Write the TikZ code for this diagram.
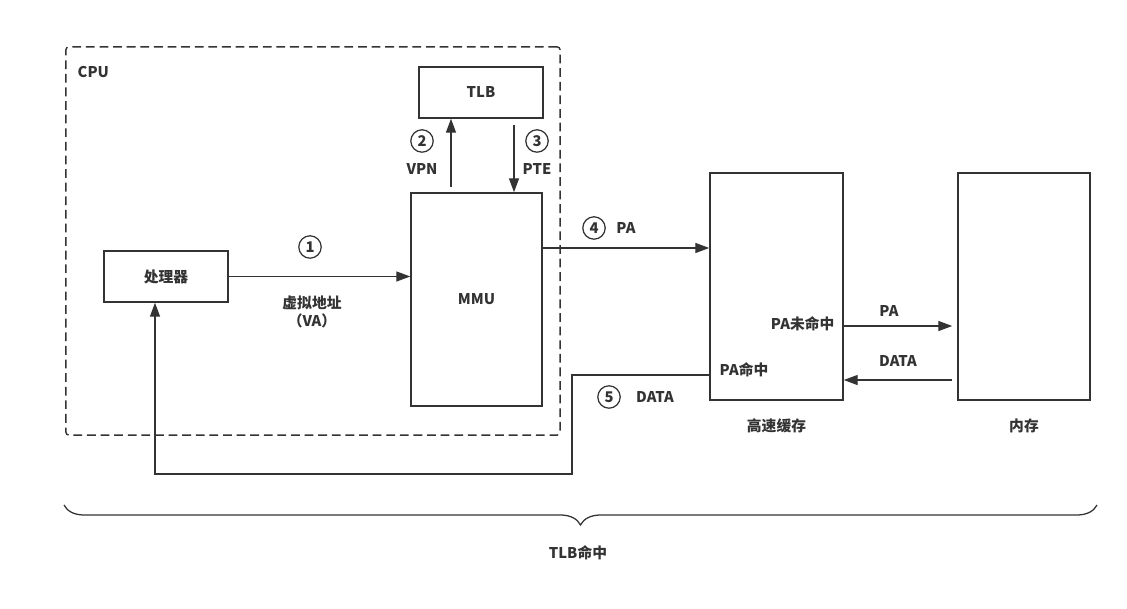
\documentclass[tikz,border=0pt]{standalone}
\usepackage{fontspec}
\setmainfont{Noto Sans CJK SC}
\usetikzlibrary{positioning,arrows.meta,calc,decorations.pathreplacing}
\definecolor{ink}{HTML}{333333}
\tikzset{
  blk/.style={draw=ink, line width=1pt, align=center, font=\fontsize{10.5}{12}\selectfont\bfseries,
              text=ink, inner sep=0pt},
  lbl/.style={font=\fontsize{10.5}{13}\selectfont\bfseries, text=ink, inner sep=1pt, align=center},
  num/.style={circle, draw=ink, line width=0.9pt, minimum size=0.56cm,
              inner sep=0pt, font=\fontsize{10.5}{12}\selectfont\bfseries, text=ink},
  flow/.style={-{Triangle[length=3.5mm,width=2.5mm]}, draw=ink, line width=1pt},
  wire/.style={draw=ink, line width=1pt},
}

\begin{document}
\begin{tikzpicture}[x=0.025cm, y=-0.025cm]
    \useasboundingbox (0,0) rectangle (1127,609);
    % CPU container
    \node[blk, dash pattern=on 2.2mm off 1.2mm, rounded corners=2pt, minimum width=12.35cm, minimum height=9.7cm] (cpu) at (313,241) {};
    \node[lbl, anchor=west] (cpulbl) at (76,72) {CPU};
    % boxes
    \node[blk, minimum width=3.1cm, minimum height=1.275cm] (proc) at (166,276.5) {处理器};
    \node[blk, minimum width=3.1cm, minimum height=1.275cm] (tlb) at (481,92.5) {TLB};
    \node[blk, minimum width=3.275cm, minimum height=5.325cm] (mmu) at (476.5,299.5) {MMU};
    \node[blk, minimum width=3.325cm, minimum height=5.675cm] (cache) at (776.5,286.5) {};
    \node[blk, minimum width=3.3cm, minimum height=5.675cm] (mem) at (1024,286.5) {};
    \node[lbl, below=0.4cm of cache] (cachelbl) {高速缓存};
    \node[lbl, below=0.4cm of mem] (memlbl) {内存};
    \node[lbl, anchor=east] (miss) at (836,324) {PA未命中};
    \node[lbl, anchor=west] (hit) at (718,370) {PA命中};
    % step 1: VA
    \draw[flow] (proc.east) -- (proc.east -| mmu.west);
    \node[num] (n1) at (310,247) {1};
    \node[lbl] (va) at (312,312) {虚拟地址\\（VA）};
    % step 2, 3: VPN / PTE
    \draw[flow] ([xshift=-0.6375cm,yshift=0.12cm]mmu.north) -- ([xshift=-0.6375cm]mmu.north |- tlb.south);
    \draw[flow] ([xshift=0.9375cm,yshift=-0.15cm]mmu.north |- tlb.south) -- ([xshift=0.9375cm]mmu.north);
    \node[num] (n2) at (422,141) {2};
    \node[lbl] (vpn) at (422,169) {VPN};
    \node[num] (n3) at (537,141) {3};
    \node[lbl] (pte) at (537,169) {PTE};
    % step 4: PA
    \draw[flow] ([yshift=1.2875cm]mmu.east) -- ([yshift=1.2875cm]mmu.east -| cache.west);
    \node[num] (n4) at (594,228) {4};
    \node[lbl] (pa) at (626,228) {PA};
    % cache <-> memory
    \draw[flow] ([yshift=-0.9875cm]cache.east) -- ([yshift=-0.9875cm,xshift=-0.125cm]cache.east -| mem.west);
    \node[lbl] (pa2) at (889,311) {PA};
    \draw[flow] ([yshift=-2.3375cm,xshift=-0.125cm]mem.west) -- ([yshift=-2.3375cm]mem.west -| cache.east);
    \node[lbl] (data2) at (898,361) {DATA};
    % step 5: DATA back to processor
    \coordinate (ret) at (572,474);
    \draw[flow] ([yshift=-2.2125cm]cache.west) -| (ret) -| ([xshift=-0.275cm]proc.south);
    \node[num] (n5) at (609,397) {5};
    \node[lbl] (data) at (655,397) {DATA};
    % brace
    \coordinate (bl) at (64,505);
    \coordinate (br) at (1097,505);
    \draw[wire, line width=0.9pt, decorate, decoration={brace, mirror, amplitude=0.5cm}] (bl) -- (br);
    \node[lbl] (hitall) at (578,553) {TLB命中};
  \end{tikzpicture}
\end{document}
